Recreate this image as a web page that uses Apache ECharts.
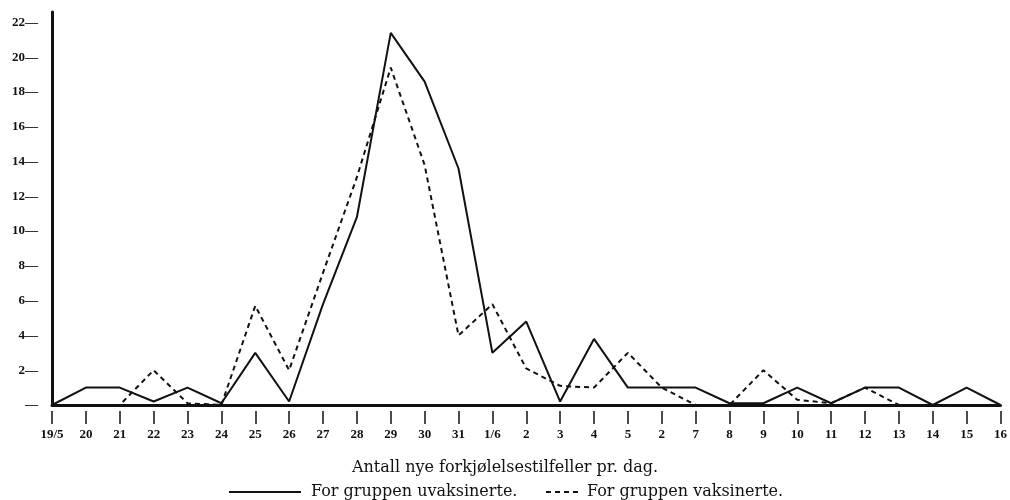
<!DOCTYPE html>
<html>
<head>
    <meta charset="utf-8">
    <title>Forkjølelsestilfeller</title>
    <script src="https://cdn.jsdelivr.net/npm/echarts@6/dist/echarts.min.js"></script>
</head>
<style>
    html, body {
        margin: 0;
        background: #fff;
    }
    #main {
        width: 1010px;
        height: 500px;
    }
</style>
<body>
<div id='main'></div>
<script>
    // dager, 19/5 til 16/6 (skrevet som i originalen)
    var dager = ['19/5', '20', '21', '22', '23', '24', '25', '26', '27', '28', '29', '30', '31',
        '1/6', '2', '3', '4', '5', '2', '7', '8', '9', '10', '11', '12', '13', '14', '15', '16'];

    // nye tilfeller pr. dag
    var uvaksinerte = [0, 1, 1, 0.2, 1, 0.1, 3, 0.2, 5.8, 10.8, 21.4, 18.6, 13.6,
        3, 4.8, 0.2, 3.8, 1, 1, 1, 0.1, 0.1, 1, 0.1, 1, 1, 0, 1, 0];
    var vaksinerte = [0, 0, 0, 2, 0.1, 0, 5.7, 2, 7.6, 13.1, 19.4, 13.8, 4,
        5.8, 2.1, 1.1, 1, 3, 1, 0, 0, 2, 0.3, 0.1, 1, 0, 0, 0, 0];

    var serif = 'DejaVu Serif';
    var tickFont = 'Liberation Serif';

    var chart = echarts.init(document.getElementById('main'));
    var option = {
        backgroundColor: '#fff',
        animation: false,
        title: {
            text: 'Antall nye forkjølelsestilfeller pr. dag.',
            left: 'center',
            top: 460,
            padding: 0,
            textStyle: {
                fontFamily: serif,
                fontSize: 16,
                fontWeight: 'normal',
                color: '#111'
            }
        },
        legend: [{
            data: ['For gruppen uvaksinerte.'],
            left: 228,
            top: 484,
            padding: 0,
            itemWidth: 72,
            itemHeight: 14,
            itemStyle: {opacity: 0},
            textStyle: {fontFamily: serif, fontSize: 16, color: '#111', padding: [0, 0, 0, 5]}
        }, {
            data: ['For gruppen vaksinerte.'],
            left: 545,
            top: 484,
            padding: 0,
            itemWidth: 34,
            itemHeight: 14,
            itemStyle: {opacity: 0},
            textStyle: {fontFamily: serif, fontSize: 16, color: '#111', padding: [0, 0, 0, 2]}
        }],
        grid: {
            left: 52,
            right: 7,
            top: 12,
            bottom: 95,
            containLabel: false
        },
        xAxis: [{
            type: 'category',
            data: dager,
            boundaryGap: false,
            axisLine: {lineStyle: {color: '#111', width: 3}},
            axisTick: {show: false},
            axisLabel: {show: false}
        }, {
            type: 'category',
            data: dager,
            boundaryGap: false,
            position: 'bottom',
            offset: 6,
            axisLine: {show: false},
            axisTick: {show: true, length: 13, lineStyle: {color: '#111', width: 1.5}},
            axisLabel: {
                margin: 17,
                fontFamily: tickFont,
                fontWeight: 'bold',
                fontSize: 13,
                color: '#111',
                interval: 0
            }
        }],
        yAxis: {
            type: 'value',
            min: 0,
            max: 22.6,
            interval: 2,
            splitLine: {show: false},
            axisTick: {show: false},
            axisLine: {show: true, lineStyle: {color: '#111', width: 3}},
            axisLabel: {
                margin: 14,
                fontFamily: tickFont,
                fontWeight: 'bold',
                fontSize: 13,
                color: '#111',
                formatter: function (v) {
                    if (v % 2 !== 0) return '';
                    return (v === 0 ? '' : v) + '—';
                }
            }
        },
        series: [{
            name: 'For gruppen vaksinerte.',
            type: 'line',
            data: vaksinerte,
            symbol: 'none',
            lineStyle: {color: '#111', width: 2, type: [5, 4]},
            itemStyle: {color: '#111'}
        }, {
            name: 'For gruppen uvaksinerte.',
            type: 'line',
            data: uvaksinerte,
            symbol: 'none',
            lineStyle: {color: '#111', width: 2},
            itemStyle: {color: '#111'}
        }]
    };
    chart.setOption(option);
    window.onresize = chart.resize;
</script>
</body>
</html>
